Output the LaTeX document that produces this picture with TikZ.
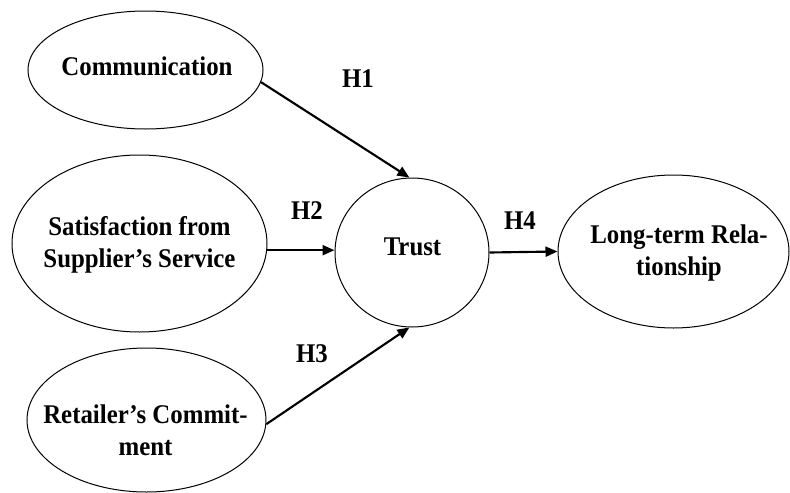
\documentclass[tikz,border=0pt]{standalone}
\usepackage{fontspec}
\setmainfont{Liberation Serif}[FakeStretch=0.92]
\usetikzlibrary{shapes.geometric,arrows.meta}
\tikzset{
  construct/.style={ellipse, draw, line width=0.75pt, inner sep=0pt},
  lbl/.style={font=\bfseries\fontsize{20.25}{24}\selectfont, align=center, inner sep=0pt, anchor=base},
  path/.style={line width=1.6pt, -{Triangle[length=9pt,width=7.5pt]}},
}
\begin{document}
\begin{tikzpicture}[x=0.75pt,y=-0.75pt]
\useasboundingbox (0,0) rectangle (790,493);
% constructs
\node[construct, minimum width=176.25pt, minimum height=88.5pt] (comm) at (145.5,70) {};
\node[construct, minimum width=191.25pt, minimum height=132.75pt] (sat) at (139.5,243.5) {};
\node[construct, minimum width=179.25pt, minimum height=108pt] (ret) at (146.5,420) {};
\node[construct, minimum width=115.5pt, minimum height=111.75pt] (trust) at (412,252.5) {};
\node[construct, minimum width=173.25pt, minimum height=114.75pt] (lt) at (673.5,251.5) {};
% texts (base anchor = baseline of last line)
\node[lbl] (commtxt) at (147,75) {Communication};
\node[lbl] (sattxt) at (139.5,267) {Satisfaction from\\Supplier’s Service};
\node[lbl] (rettxt) at (145.5,455) {Retailer’s Commit-\\ment};
\node[lbl] (trusttxt) at (412.5,255) {Trust};
\node[lbl] (lttxt) at (679,275) {Long-term Rela-\\tionship};
% hypothesis labels
\node[lbl] (h1) at (358,87) {H1};
\node[lbl] (h2) at (307,219) {H2};
\node[lbl] (h3) at (312,362) {H3};
\node[lbl] (h4) at (520,229) {H4};
% paths
\draw[path] (comm.-6) -- (trust.92);
\draw[path] (sat.-3) -- (sat.-3 -| trust.west);
\draw[path] (ret.-2) -- (trust.-92);
\draw[path] (trust.east) -- (lt.west);
\end{tikzpicture}
\end{document}
